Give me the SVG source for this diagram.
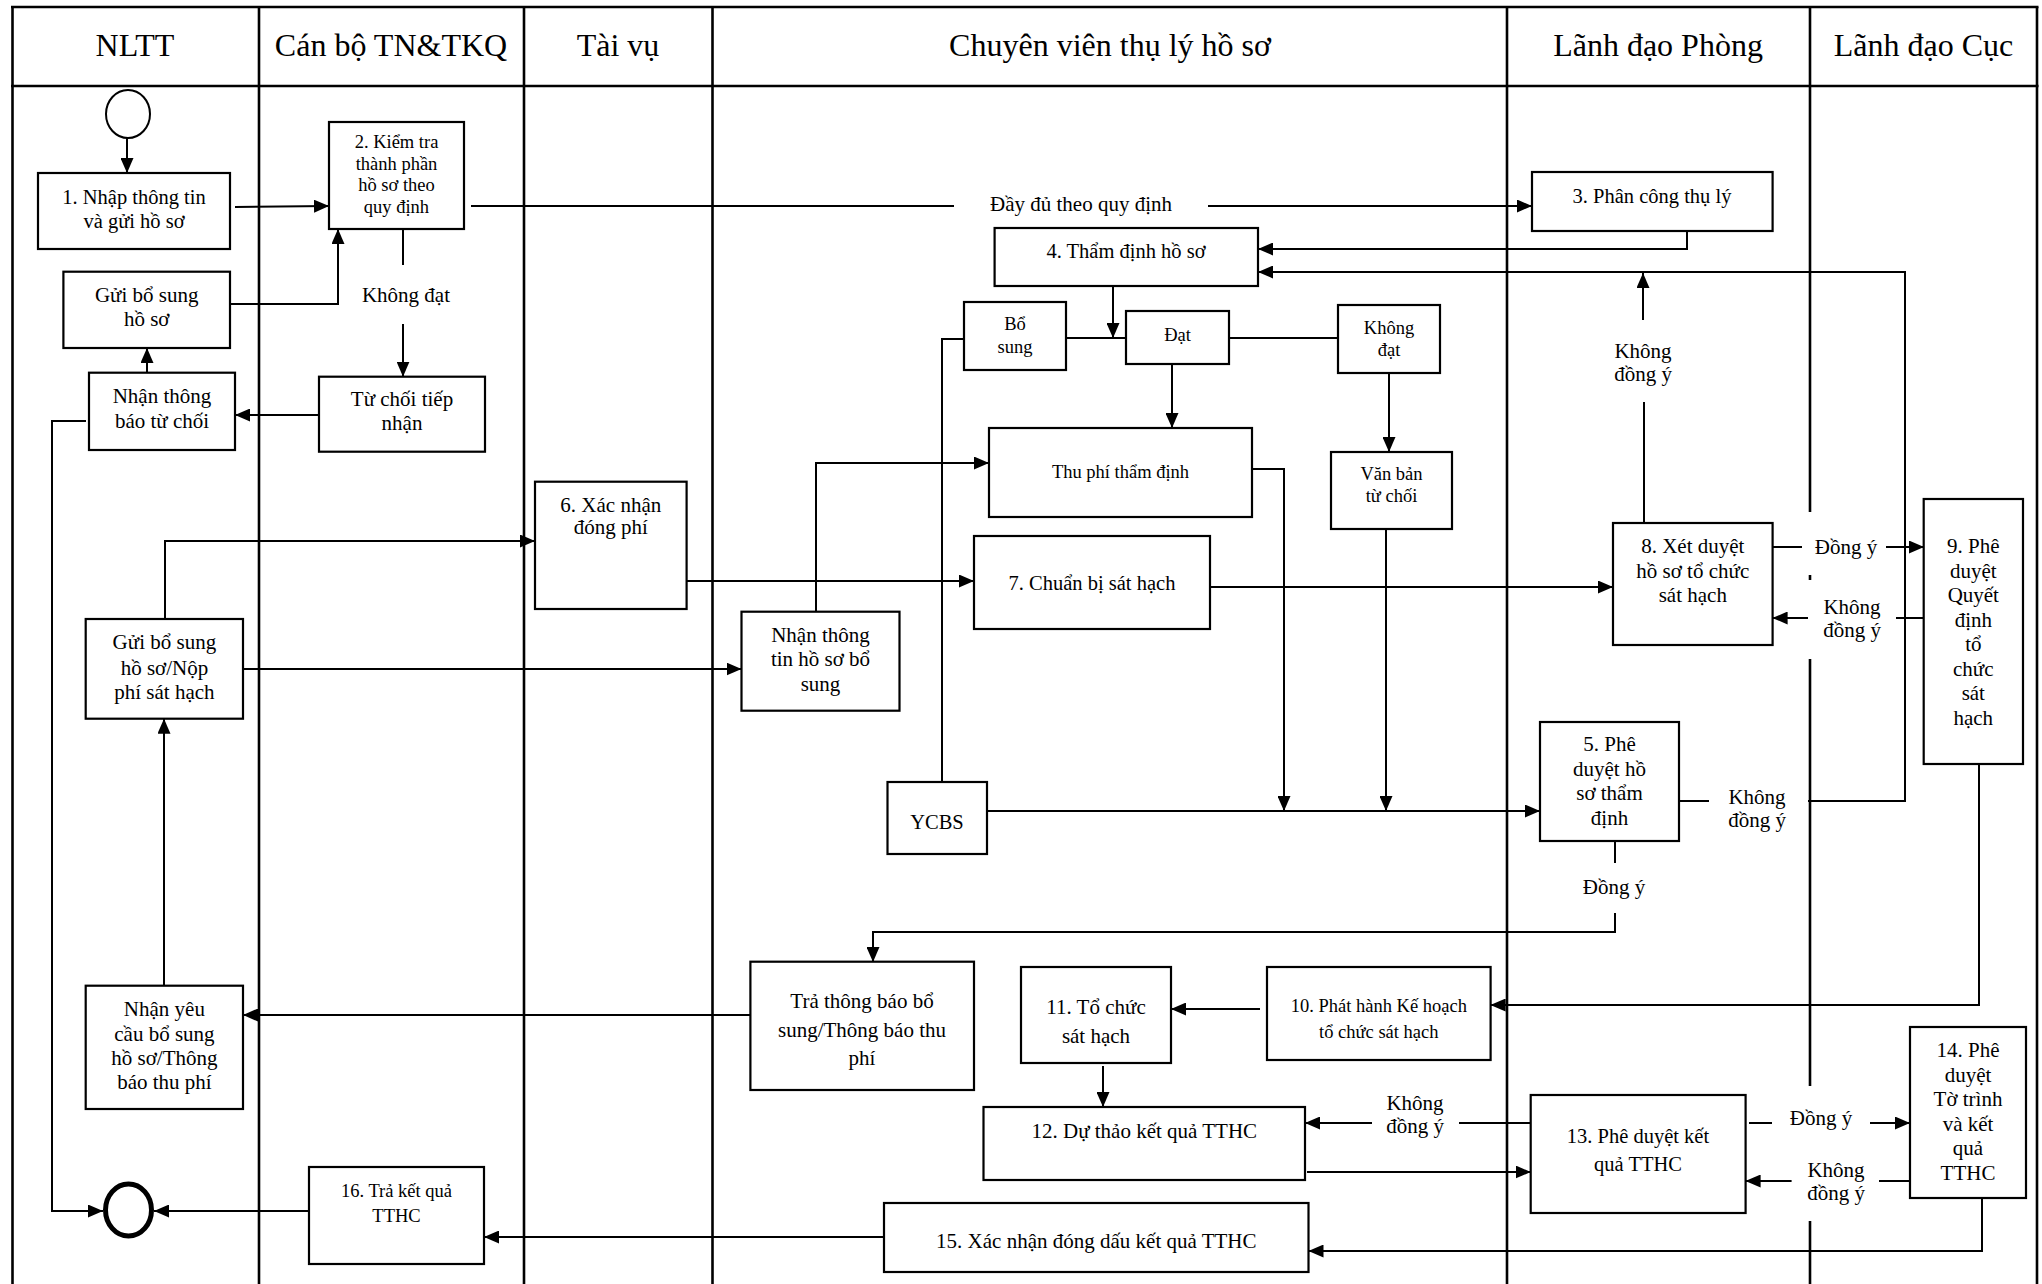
<svg xmlns="http://www.w3.org/2000/svg" width="2042" height="1284" viewBox="0 0 2042 1284">
<style>
.lane{stroke:#000;stroke-width:2.6;fill:none}
.box{fill:#fff;stroke:#000;stroke-width:2.2}
.c{stroke:#000;stroke-width:2;fill:none}
.ca{stroke:#000;stroke-width:2;fill:none;marker-end:url(#ah)}
text{font-family:"Liberation Serif","Times New Roman",serif;fill:#000;text-anchor:middle}
.hdr{font-size:32px}
.t21{font-size:21px}
.t20{font-size:20.5px}
.t18{font-size:18.5px}
.bg{fill:#fff;stroke:none}
</style>
<defs>
<marker id="ah" markerUnits="userSpaceOnUse" markerWidth="15" markerHeight="13" refX="15" refY="6.5" orient="auto">
<path d="M0,0 L15,6.5 L0,13 z" fill="#000"/>
</marker>
</defs>
<rect x="0" y="0" width="2042" height="1284" fill="#fff"/>
<g id="lanes">
<g class="lane">
<line x1="11" y1="7" x2="2038.5" y2="7"/>
<line x1="11" y1="86" x2="2038.5" y2="86"/>
<line x1="12.5" y1="7" x2="12.5" y2="1284"/>
<line x1="259" y1="7" x2="259" y2="1284"/>
<line x1="524" y1="7" x2="524" y2="1284"/>
<line x1="712.5" y1="7" x2="712.5" y2="1284"/>
<line x1="1507" y1="7" x2="1507" y2="1284"/>
<line x1="1810" y1="7" x2="1810" y2="1284"/>
<line x1="2037" y1="7" x2="2037" y2="1284"/>
</g>
<text class="hdr" x="135" y="56">NLTT</text>
<text class="hdr" x="391" y="56">Cán bộ TN&amp;TKQ</text>
<text class="hdr" x="618" y="56">Tài vụ</text>
<text class="hdr" x="1110" y="56">Chuyên viên thụ lý hồ sơ</text>
<text class="hdr" x="1658" y="56">Lãnh đạo Phòng</text>
<text class="hdr" x="1923.5" y="56">Lãnh đạo Cục</text>
</g>
<g id="connectors">
<line class="ca" x1="127" y1="138" x2="127" y2="173"/>
<line class="ca" x1="235" y1="207" x2="329" y2="206"/>
<line class="c" x1="471" y1="206" x2="954" y2="206"/>
<text class="t21" x="1081" y="211">Đầy đủ theo quy định</text>
<line class="ca" x1="1208" y1="206" x2="1532" y2="206"/>
<line class="c" x1="403" y1="229" x2="403" y2="265"/>
<text class="t21" x="406" y="302">Không đạt</text>
<line class="ca" x1="403" y1="324" x2="403" y2="376.7"/>
<line class="ca" x1="319" y1="415" x2="235" y2="415"/>
<line class="ca" x1="147" y1="372.7" x2="147" y2="348"/>
<polyline class="ca" points="230,304 338,304 338,229"/>
<polyline class="ca" points="86,421 52,421 52,1211 103,1211"/>
<line class="ca" x1="309" y1="1211" x2="154" y2="1211"/>
<polyline class="ca" points="1687,231 1687,249 1258,249"/>
<line class="c" x1="1679" y1="801" x2="1709" y2="801"/>
<text class="t21" x="1757"><tspan x="1757" y="804">Không</tspan><tspan x="1757" y="827">đồng ý</tspan></text>
<polyline class="ca" points="1808,801 1905,801 1905,272 1258,272"/>
<line class="ca" x1="1113" y1="286" x2="1113" y2="338"/>
<line class="c" x1="1066" y1="338" x2="1126" y2="338"/>
<line class="c" x1="1229" y1="338" x2="1338" y2="338"/>
<line class="ca" x1="1172" y1="364" x2="1172" y2="428"/>
<line class="ca" x1="1389" y1="373" x2="1389" y2="452"/>
<polyline class="c" points="964,339 942,339 942,782"/>
<line class="ca" x1="987" y1="811" x2="1540" y2="811"/>
<polyline class="ca" points="1252,469 1284,469 1284,811"/>
<line class="ca" x1="1386" y1="529" x2="1386" y2="811"/>
<polyline class="ca" points="816,611.7 816,463 989,463"/>
<polyline class="ca" points="165,619 165,541 535,541"/>
<line class="ca" x1="243" y1="669" x2="741.5" y2="669"/>
<line class="ca" x1="686.6" y1="581" x2="974" y2="581"/>
<line class="ca" x1="1210" y1="587" x2="1613" y2="587"/>
<line class="c" x1="1644" y1="523" x2="1644" y2="402"/>
<text class="t21" x="1643"><tspan x="1643" y="358">Không</tspan><tspan x="1643" y="381">đồng ý</tspan></text>
<line class="ca" x1="1643" y1="320" x2="1643" y2="273"/>
<line class="c" x1="1772.6" y1="547" x2="1802" y2="547"/>
<rect class="bg" x="1802" y="512" width="84" height="63"/>
<text class="t21" x="1846" y="554">Đồng ý</text>
<line class="ca" x1="1886" y1="547" x2="1924" y2="547"/>
<line class="c" x1="1924" y1="618" x2="1896" y2="618"/>
<rect class="bg" x="1807" y="580" width="89" height="79"/>
<text class="t21" x="1852"><tspan x="1852" y="614">Không</tspan><tspan x="1852" y="637">đồng ý</tspan></text>
<line class="ca" x1="1808" y1="618" x2="1772.6" y2="618"/>
<line class="c" x1="1615" y1="841" x2="1615" y2="863"/>
<text class="t21" x="1614" y="894">Đồng ý</text>
<polyline class="ca" points="1615,913 1615,932 873,932 873,962"/>
<line class="ca" x1="750.4" y1="1015" x2="243" y2="1015"/>
<line class="ca" x1="164" y1="985.7" x2="164" y2="718.7"/>
<polyline class="ca" points="1979,764 1979,1005 1490.6,1005"/>
<line class="ca" x1="1260" y1="1009" x2="1171" y2="1009"/>
<line class="ca" x1="1103" y1="1066" x2="1103" y2="1107"/>
<line class="c" x1="1531" y1="1123" x2="1459" y2="1123"/>
<text class="t21" x="1415"><tspan x="1415" y="1110">Không</tspan><tspan x="1415" y="1133">đồng ý</tspan></text>
<line class="ca" x1="1372" y1="1123" x2="1305" y2="1123"/>
<line class="ca" x1="1307" y1="1172" x2="1530.7" y2="1172"/>
<line class="c" x1="1749" y1="1123" x2="1772" y2="1123"/>
<rect class="bg" x="1776" y="1086" width="90" height="64"/>
<text class="t21" x="1821" y="1125">Đồng ý</text>
<line class="ca" x1="1870" y1="1123" x2="1910" y2="1123"/>
<line class="c" x1="1910" y1="1181" x2="1879" y2="1181"/>
<rect class="bg" x="1795" y="1150" width="83" height="71"/>
<text class="t21" x="1836"><tspan x="1836" y="1177">Không</tspan><tspan x="1836" y="1200">đồng ý</tspan></text>
<line class="ca" x1="1791.6" y1="1181" x2="1745.6" y2="1181"/>
<polyline class="ca" points="1982,1198 1982,1251 1308.5,1251"/>
<line class="ca" x1="884" y1="1237" x2="484" y2="1237"/>
</g>
<g id="start"><ellipse cx="128" cy="114" rx="22" ry="24" fill="#fff" stroke="#000" stroke-width="2"/></g>
<g id="end"><ellipse cx="128.5" cy="1210" rx="23" ry="26" fill="#fff" stroke="#000" stroke-width="5"/></g>
<g id="n1"><rect class="box" x="38" y="173" width="192" height="76"/>
<text class="t20"><tspan x="134" y="204">1. Nhập thông tin</tspan><tspan x="134" y="228">và gửi hồ sơ</tspan></text></g>
<g id="n2"><rect class="box" x="329" y="122" width="135" height="107"/>
<text class="t18"><tspan x="396.5" y="148">2. Kiểm tra</tspan><tspan x="396.5" y="170">thành phần</tspan><tspan x="396.5" y="191">hồ sơ theo</tspan><tspan x="396.5" y="213">quy định</tspan></text></g>
<g id="n-guibs"><rect class="box" x="63.4" y="271.7" width="166.6" height="76.3"/>
<text class="t21"><tspan x="146.7" y="302">Gửi bổ sung</tspan><tspan x="146.7" y="326">hồ sơ</tspan></text></g>
<g id="n-nhantb"><rect class="box" x="89" y="372.7" width="146" height="77.3"/>
<text class="t21"><tspan x="162" y="403">Nhận thông</tspan><tspan x="162" y="428">báo từ chối</tspan></text></g>
<g id="n-tuchoi"><rect class="box" x="319" y="376.7" width="166" height="75"/>
<text class="t21"><tspan x="402" y="406">Từ chối tiếp</tspan><tspan x="402" y="430">nhận</tspan></text></g>
<g id="n3"><rect class="box" x="1532" y="172" width="240.6" height="59"/>
<text class="t20" x="1652" y="203">3. Phân công thụ lý</text></g>
<g id="n4"><rect class="box" x="994.6" y="228" width="263.4" height="58"/>
<text class="t20" x="1126" y="258">4. Thẩm định hồ sơ</text></g>
<g id="n-bosung"><rect class="box" x="964" y="302" width="102" height="68"/>
<text class="t18"><tspan x="1015" y="330">Bổ</tspan><tspan x="1015" y="353">sung</tspan></text></g>
<g id="n-dat"><rect class="box" x="1126" y="311" width="103" height="53"/>
<text class="t18" x="1177.5" y="341">Đạt</text></g>
<g id="n-khongdat"><rect class="box" x="1338" y="305" width="102" height="68"/>
<text class="t18"><tspan x="1389" y="334">Không</tspan><tspan x="1389" y="356">đạt</tspan></text></g>
<g id="n-thuphi"><rect class="box" x="989" y="428" width="263" height="89"/>
<text class="t18" x="1120.5" y="478">Thu phí thẩm định</text></g>
<g id="n-vanban"><rect class="box" x="1331" y="452" width="121" height="77"/>
<text class="t18"><tspan x="1391.5" y="480">Văn bản</tspan><tspan x="1391.5" y="502">từ chối</tspan></text></g>
<g id="n6"><rect class="box" x="535" y="481.7" width="151.6" height="127.3"/>
<text class="t21"><tspan x="610.8" y="512">6. Xác nhận</tspan><tspan x="610.8" y="534">đóng phí</tspan></text></g>
<g id="n7"><rect class="box" x="974" y="536" width="236" height="93"/>
<text class="t20" x="1092" y="590">7. Chuẩn bị sát hạch</text></g>
<g id="n-nhanttbs"><rect class="box" x="741.5" y="611.7" width="158" height="99"/>
<text class="t21"><tspan x="820.5" y="642">Nhận thông</tspan><tspan x="820.5" y="666">tin hồ sơ bổ</tspan><tspan x="820.5" y="690.5">sung</tspan></text></g>
<g id="n-guinop"><rect class="box" x="85.7" y="619" width="157.3" height="99.7"/>
<text class="t21"><tspan x="164.4" y="649">Gửi bổ sung</tspan><tspan x="164.4" y="675">hồ sơ/Nộp</tspan><tspan x="164.4" y="699">phí sát hạch</tspan></text></g>
<g id="n-ycbs"><rect class="box" x="887.5" y="782" width="99.5" height="72"/>
<text class="t20" x="937" y="829">YCBS</text></g>
<g id="n8"><rect class="box" x="1613" y="523" width="159.6" height="122"/>
<text class="t21"><tspan x="1692.8" y="553">8. Xét duyệt</tspan><tspan x="1692.8" y="578">hồ sơ tổ chức</tspan><tspan x="1692.8" y="602">sát hạch</tspan></text></g>
<g id="n9"><rect class="box" x="1923.7" y="499" width="99.3" height="265"/>
<text class="t21"><tspan x="1973.3" y="553">9. Phê</tspan><tspan x="1973.3" y="577.5">duyệt</tspan><tspan x="1973.3" y="602">Quyết</tspan><tspan x="1973.3" y="626.5">định</tspan><tspan x="1973.3" y="651">tổ</tspan><tspan x="1973.3" y="675.5">chức</tspan><tspan x="1973.3" y="700">sát</tspan><tspan x="1973.3" y="724.5">hạch</tspan></text></g>
<g id="n5"><rect class="box" x="1540" y="722" width="139" height="119"/>
<text class="t21"><tspan x="1609.5" y="751">5. Phê</tspan><tspan x="1609.5" y="775.5">duyệt hồ</tspan><tspan x="1609.5" y="800">sơ thẩm</tspan><tspan x="1609.5" y="824.5">định</tspan></text></g>
<g id="n-trathongbao"><rect class="box" x="750.4" y="961.7" width="223.6" height="128.3"/>
<text class="t21"><tspan x="862" y="1008">Trả thông báo bổ</tspan><tspan x="862" y="1037">sung/Thông báo thu</tspan><tspan x="862" y="1065">phí</tspan></text></g>
<g id="n10"><rect class="box" x="1267" y="967" width="223.6" height="93"/>
<text class="t18"><tspan x="1378.8" y="1012">10. Phát hành Kế hoạch</tspan><tspan x="1378.8" y="1038">tổ chức sát hạch</tspan></text></g>
<g id="n11"><rect class="box" x="1021" y="967" width="150" height="96"/>
<text class="t21"><tspan x="1096" y="1014">11. Tổ chức</tspan><tspan x="1096" y="1042.5">sát hạch</tspan></text></g>
<g id="n12"><rect class="box" x="983.5" y="1107" width="321.5" height="73"/>
<text class="t21" x="1144.3" y="1138">12. Dự thảo kết quả TTHC</text></g>
<g id="n13"><rect class="box" x="1530.7" y="1095" width="214.9" height="118"/>
<text class="t20"><tspan x="1638" y="1143">13. Phê duyệt kết</tspan><tspan x="1638" y="1171">quả TTHC</tspan></text></g>
<g id="n14"><rect class="box" x="1910" y="1027" width="116" height="171"/>
<text class="t21"><tspan x="1968" y="1057">14. Phê</tspan><tspan x="1968" y="1081.5">duyệt</tspan><tspan x="1968" y="1106">Tờ trình</tspan><tspan x="1968" y="1130.5">và kết</tspan><tspan x="1968" y="1155">quả</tspan><tspan x="1968" y="1180">TTHC</tspan></text></g>
<g id="n15"><rect class="box" x="884" y="1203" width="424.5" height="69"/>
<text class="t21" x="1096.3" y="1248">15. Xác nhận đóng dấu kết quả TTHC</text></g>
<g id="n16"><rect class="box" x="309" y="1167" width="175" height="97"/>
<text class="t18"><tspan x="396.5" y="1197">16. Trả kết quả</tspan><tspan x="396.5" y="1222">TTHC</tspan></text></g>
<g id="n-nhanyc"><rect class="box" x="85.7" y="985.7" width="157.3" height="123.3"/>
<text class="t21"><tspan x="164.4" y="1016">Nhận yêu</tspan><tspan x="164.4" y="1041">cầu bổ sung</tspan><tspan x="164.4" y="1065">hồ sơ/Thông</tspan><tspan x="164.4" y="1089">báo thu phí</tspan></text></g>
</svg>
